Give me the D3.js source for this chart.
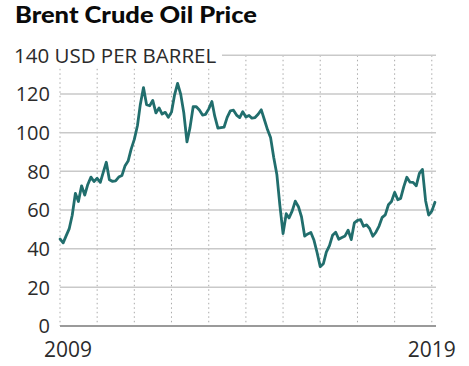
<!DOCTYPE html>
<html>
<head>
<meta charset="utf-8">
<script src="https://cdn.jsdelivr.net/npm/d3@7"></script>
<style>
  html, body { margin: 0; padding: 0; background: #fff; }
  svg { display: block; }
  text { font-family: "Open Sans", "DejaVu Sans", sans-serif; fill: #2b2b2b; }
</style>
</head>
<body>
<svg id="chart" width="469" height="366"></svg>
<script>
// ---- data (monthly Brent crude price, USD per barrel) ----
const startYear = 2009;
const startMonth = 0; // January
const prices = [
  // 2009
  45, 43, 46.5, 50.2, 57.3, 68.6, 64.4, 72.5, 67.7, 73.2, 77.0, 74.7,
  // 2010
  76.4, 74.3, 79.3, 84.7, 75.6, 74.8, 75.0, 77.0, 77.8, 82.7, 85.3, 91.5,
  // 2011
  96.5, 103.7, 114.6, 123.3, 114.5, 113.9, 116.7, 110.2, 112.8, 109.6, 110.5, 107.9,
  // 2012
  110.6, 119.7, 125.5, 119.8, 110.3, 95.2, 102.6, 113.4, 113.4, 111.7, 109.1, 109.5,
  // 2013
  112.3, 116.1, 108.5, 102.3, 102.6, 102.9, 107.9, 111.3, 111.6, 109.1, 107.8, 110.8,
  // 2014
  108.1, 108.9, 107.5, 107.8, 109.5, 111.8, 106.8, 101.6, 97.3, 87.3, 78.4, 62.2,
  // 2015
  47.8, 58.1, 55.9, 59.5, 64.6, 61.7, 56.5, 46.5, 47.6, 48.4, 44.3, 38.0,
  // 2016
  30.7, 32.2, 38.2, 41.6, 46.9, 48.5, 44.9, 45.8, 46.6, 49.5, 44.7, 53.3,
  // 2017
  54.6, 55.0, 51.6, 52.3, 50.3, 46.4, 48.5, 51.7, 56.2, 57.5, 62.7, 64.4,
  // 2018
  69.1, 65.3, 66.0, 72.1, 76.9, 74.4, 74.3, 72.5, 78.9, 81.0, 64.8, 57.4,
  // 2019
  59.4, 64.0
];
const yTicks = [0, 20, 40, 60, 80, 100, 120, 140];
const xTickYears = [2009, 2010, 2011, 2012, 2013, 2014, 2015, 2016, 2017, 2018, 2019];
const xLabelYears = [2009, 2019];
const title = "Brent Crude Oil Price";
const unitLabel = "USD PER BARREL";

const data = prices.map((v, i) => ({ date: new Date(startYear, startMonth + i, 1), value: v }));

// ---- layout ----
const svg = d3.select("#chart");
const plotLeft = 60, plotRight = 436, plotTop = 55.3, plotBottom = 326;

const x = d3.scaleTime()
  .domain([new Date(2009, 0, 1), new Date(2019, 0, 1)])
  .range([60, 431.8]);
const y = d3.scaleLinear().domain([0, 140]).range([plotBottom, plotTop]);

// vertical dotted gridlines
svg.append("g").selectAll("line")
  .data(xTickYears)
  .join("line")
  .attr("x1", d => x(new Date(d, 0, 1)))
  .attr("x2", d => x(new Date(d, 0, 1)))
  .attr("y1", plotTop)
  .attr("y2", plotBottom)
  .attr("stroke", "#aaaaaa")
  .attr("stroke-width", 1)
  .attr("stroke-dasharray", "1.5,3");

// horizontal gridlines
svg.append("g").selectAll("line")
  .data(yTicks.filter(d => d !== 0))
  .join("line")
  .attr("x1", plotLeft)
  .attr("x2", plotRight)
  .attr("y1", d => y(d))
  .attr("y2", d => y(d))
  .attr("stroke", "#c9c9c9")
  .attr("stroke-width", 1.5);

// zero baseline
svg.append("line")
  .attr("x1", plotLeft).attr("x2", plotRight)
  .attr("y1", y(0)).attr("y2", y(0))
  .attr("stroke", "#9a9a9a")
  .attr("stroke-width", 2);

// white box behind top label
svg.append("rect")
  .attr("x", 0).attr("y", y(140) - 13)
  .attr("width", 222).attr("height", 26)
  .attr("fill", "#fff");

// y tick labels
svg.append("g").selectAll("text")
  .data(yTicks.filter(d => d !== 140))
  .join("text")
  .attr("x", 50)
  .attr("y", d => y(d))
  .attr("dy", "0.36em")
  .attr("text-anchor", "end")
  .attr("font-size", 20)
  .text(d => d);

// top label "140 USD PER BARREL"
svg.append("text")
  .attr("x", 14)
  .attr("y", y(140))
  .attr("dy", "0.36em")
  .attr("font-size", 20.5)
  .text(yTicks[yTicks.length - 1] + " " + unitLabel);

// x labels
svg.append("g").selectAll("text")
  .data(xLabelYears)
  .join("text")
  .attr("x", d => x(new Date(d, 0, 1)) + (d === 2009 ? 8 : 0))
  .attr("y", 357)
  .attr("text-anchor", "middle")
  .attr("font-size", 21)
  .text(d => d);

// line
const line = d3.line()
  .x(d => x(d.date))
  .y(d => y(d.value));

svg.append("path")
  .datum(data)
  .attr("fill", "none")
  .attr("stroke", "#216e6d")
  .attr("stroke-width", 2.8)
  .attr("stroke-linejoin", "round")
  .attr("stroke-linecap", "round")
  .attr("d", line);

// title
svg.append("text")
  .attr("x", 15)
  .attr("y", 23)
  .attr("font-size", 23)
  .attr("font-weight", 900)
  .attr("textLength", 242)
  .attr("lengthAdjust", "spacingAndGlyphs")
  .style("font-family", "Lato, 'Open Sans', sans-serif")
  .style("fill", "#0a0a0a")
  .text(title);
</script>
</body>
</html>
